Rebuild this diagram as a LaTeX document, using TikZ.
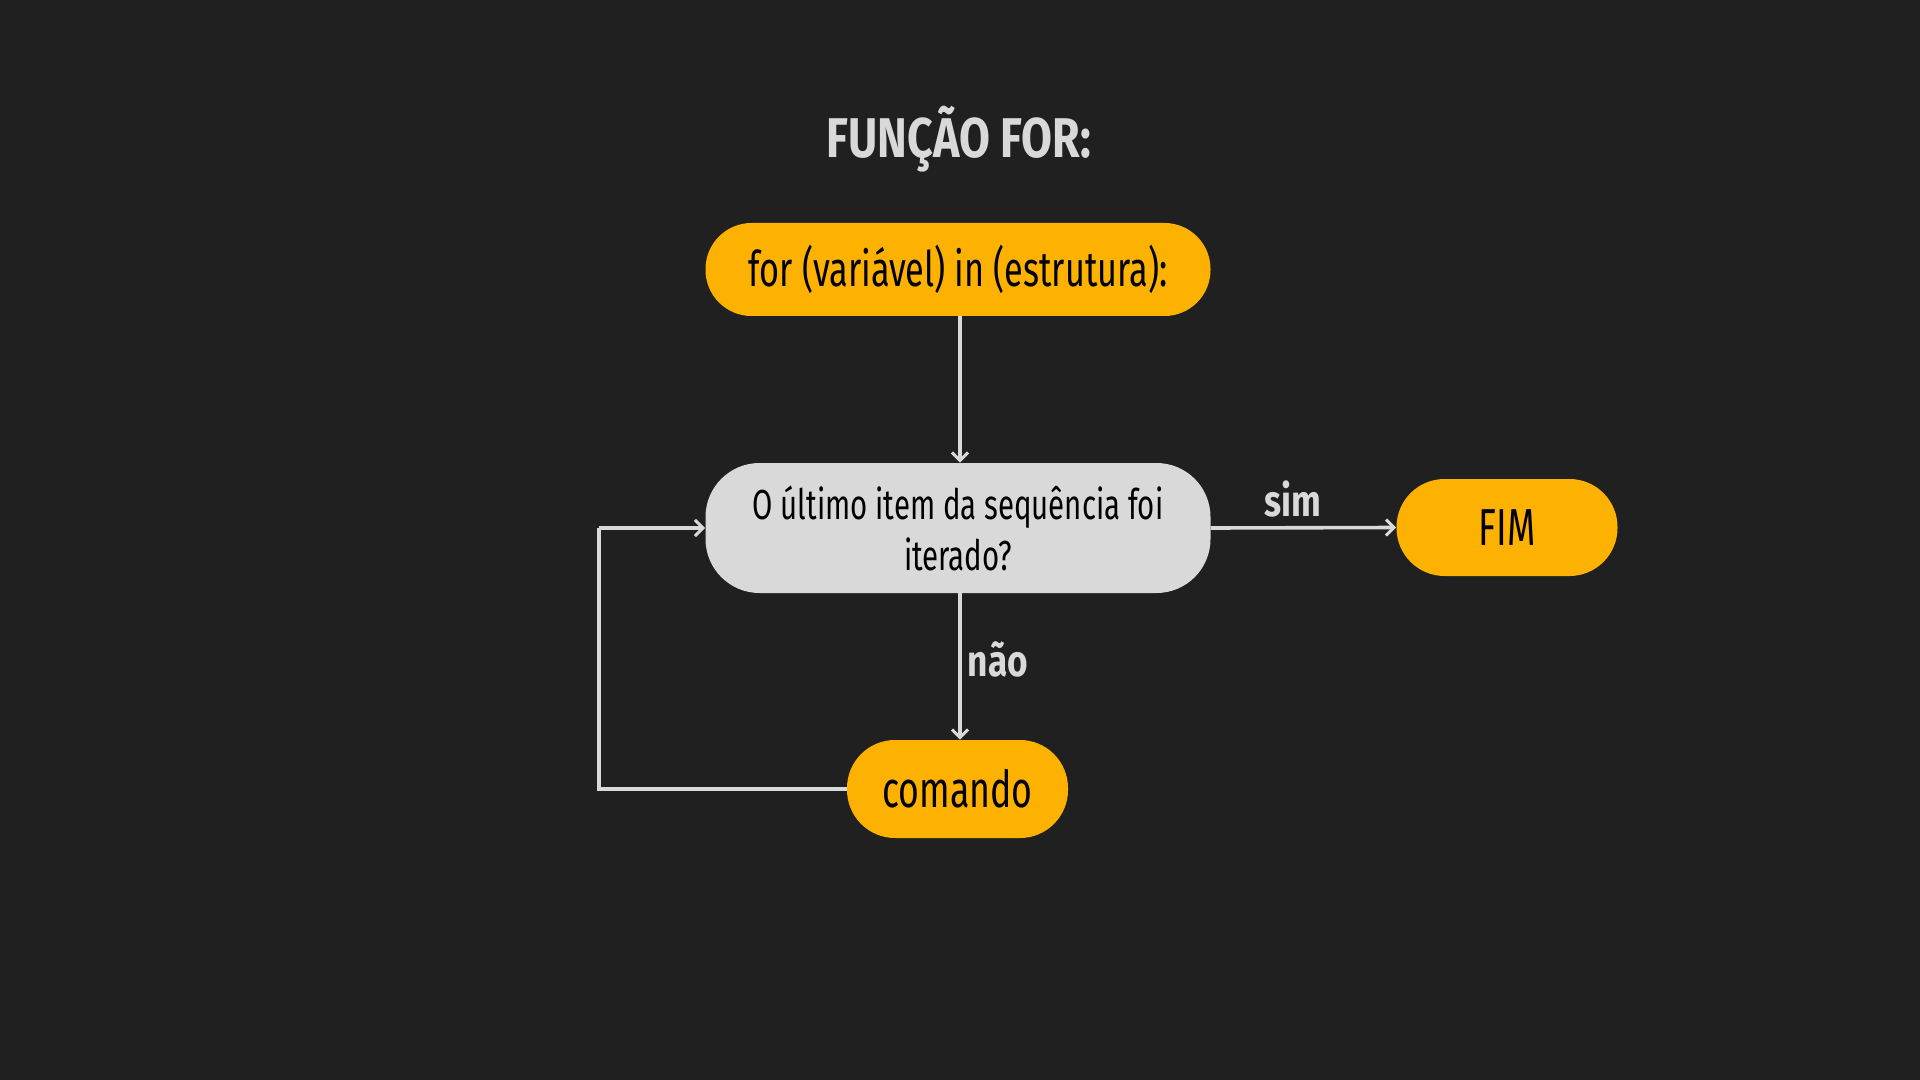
\documentclass[tikz,border=0pt]{standalone}
\usepackage{fontspec}
\setmainfont{Fira Sans}[FakeStretch=0.7, BoldFeatures={FakeStretch=0.8}]
\usetikzlibrary{arrows.meta}
\definecolor{bg}{HTML}{202020}
\definecolor{orng}{HTML}{FDB100}
\definecolor{lgrey}{HTML}{D9D9D9}
\tikzset{
  pill/.style={fill=orng, text=black, inner sep=0pt, align=center},
  conn/.style={draw=lgrey, line width=1.8pt, -{Straight Barb[length=4pt,width=8pt,line width=1.5pt]}},
  plain/.style={draw=lgrey, line width=1.8pt},
  lbl/.style={text=lgrey, font=\bfseries\fontsize{22}{26}\selectfont, inner sep=0pt},
}
\begin{document}
\begin{tikzpicture}[x=0.5pt,y=-0.5pt]
\fill[bg] (0,0) rectangle (1920,1080);
\useasboundingbox (0,0) rectangle (1920,1080);
\node[anchor=base, text=lgrey, inner sep=0pt, font=\bfseries\fontsize{28}{30}\selectfont] (title) at (959,158) {FUNÇÃO FOR:};
\node[pill, minimum width=252.5pt, minimum height=46.5pt, rounded corners=23pt, font=\fontsize{24.5}{28}\selectfont] (top) at (958,269.5) {for (variável) in (estrutura):};
\node[fill=lgrey, text=black, inner sep=0pt, align=center, minimum width=252.5pt, minimum height=65pt, rounded corners=27pt, font=\fontsize{21}{25.5}\selectfont] (dec) at (958,528) {O último item da sequência foi\\iterado?};
\node[pill, minimum width=110.5pt, minimum height=48.5pt, rounded corners=24pt, font=\fontsize{26}{30}\selectfont] (fim) at (1507,527.5) {FIM};
\node[pill, minimum width=110.5pt, minimum height=49pt, rounded corners=24pt, font=\fontsize{25.5}{30}\selectfont] (cmd) at (957.5,789) {comando};
\coordinate (ax) at (960,0);
\draw[conn] (top.south -| ax) -- (dec.north -| ax);
\draw[conn] (dec.east) -- (fim.west);
\draw[conn] (dec.south -| ax) -- (cmd.north -| ax);
\coordinate (lb) at (599,789);
\coordinate (lt) at (599,528);
\draw[plain] (cmd.west) -- (lb) -- (lt);
\draw[conn] (lt) -- (dec.west);
\node[lbl, anchor=base] (sim) at (1293,516) {sim};
\node[lbl, anchor=base] (nao) at (998,676) {não};
\end{tikzpicture}
\end{document}
